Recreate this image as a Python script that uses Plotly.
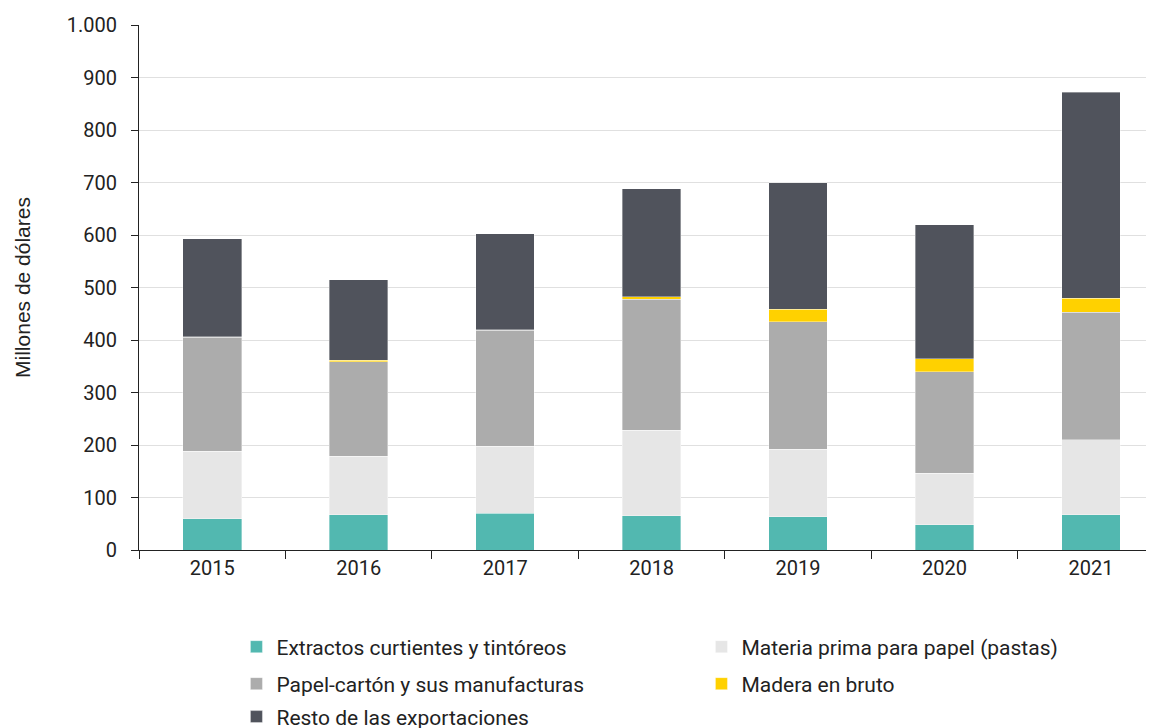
import plotly.graph_objects as go

years = ["2015", "2016", "2017", "2018", "2019", "2020", "2021"]
extractos = [60, 67, 70, 65, 63, 48, 67]
pastas = [128, 112, 128, 163, 129, 98, 143]
papel = [217, 180, 221, 250, 243, 194, 243]
madera = [1, 2, 1, 4, 24, 24, 27]
resto = [187, 154, 182, 206, 241, 256, 392]

series = [
    ("Extractos curtientes y tintóreos", extractos, "#52B8B0", "legend"),
    ("Materia prima para papel (pastas)", pastas, "#E6E6E6", "legend"),
    ("Papel-cartón y sus manufacturas", papel, "#ACACAC", "legend2"),
    ("Madera en bruto", madera, "#FFD100", "legend2"),
    ("Resto de las exportaciones", resto, "#50535C", "legend3"),
]

fig = go.Figure()
for name, vals, color, lg in series:
    fig.add_trace(go.Bar(
        x=years, y=vals, name=name, legend=lg,
        marker=dict(color=color, line=dict(color="rgba(255,255,255,0.6)", width=0.6)),
        width=0.4,
    ))

leg_common = dict(
    orientation="h", x=0.096, xanchor="left", yanchor="middle",
    entrywidth=420, entrywidthmode="pixels", itemwidth=30,
    font=dict(family="Roboto", size=21, color="#222222"), traceorder="normal",
    bgcolor="rgba(0,0,0,0)",
)

fig.update_layout(
    barmode="stack",
    width=1146, height=720,
    margin=dict(l=131, r=0, t=17, b=178, autoexpand=False),
    plot_bgcolor="white", paper_bgcolor="white",
    font=dict(family="Roboto", size=20, color="#222222"),
    legend=dict(leg_common, y=-0.1848),
    legend2=dict(leg_common, y=-0.2552),
    legend3=dict(leg_common, y=-0.318),
    xaxis=dict(
        type="category", range=[-0.5, 6.43],
        showline=True, linecolor="#222222", linewidth=1,
        ticks="outside", tickson="boundaries", ticklen=8, tickcolor="#222222",
        tickfont=dict(size=20),
    ),
    yaxis=dict(
        range=[0, 1000], dtick=100,
        tickformat=",d",
        showline=True, linecolor="#222222", linewidth=1,
        ticks="outside", ticklen=7, tickcolor="#222222",
        ticklabelstandoff=10,
        gridcolor="#E0E0E0", gridwidth=1,
        tickfont=dict(size=20),
        title=dict(text="Millones de dólares",
                   font=dict(family="Liberation Sans, Arial", size=21, color="#222222"),
                   standoff=30),
        zeroline=False,
    ),
    separators=",.",
)

fig.write_html("out.html")
